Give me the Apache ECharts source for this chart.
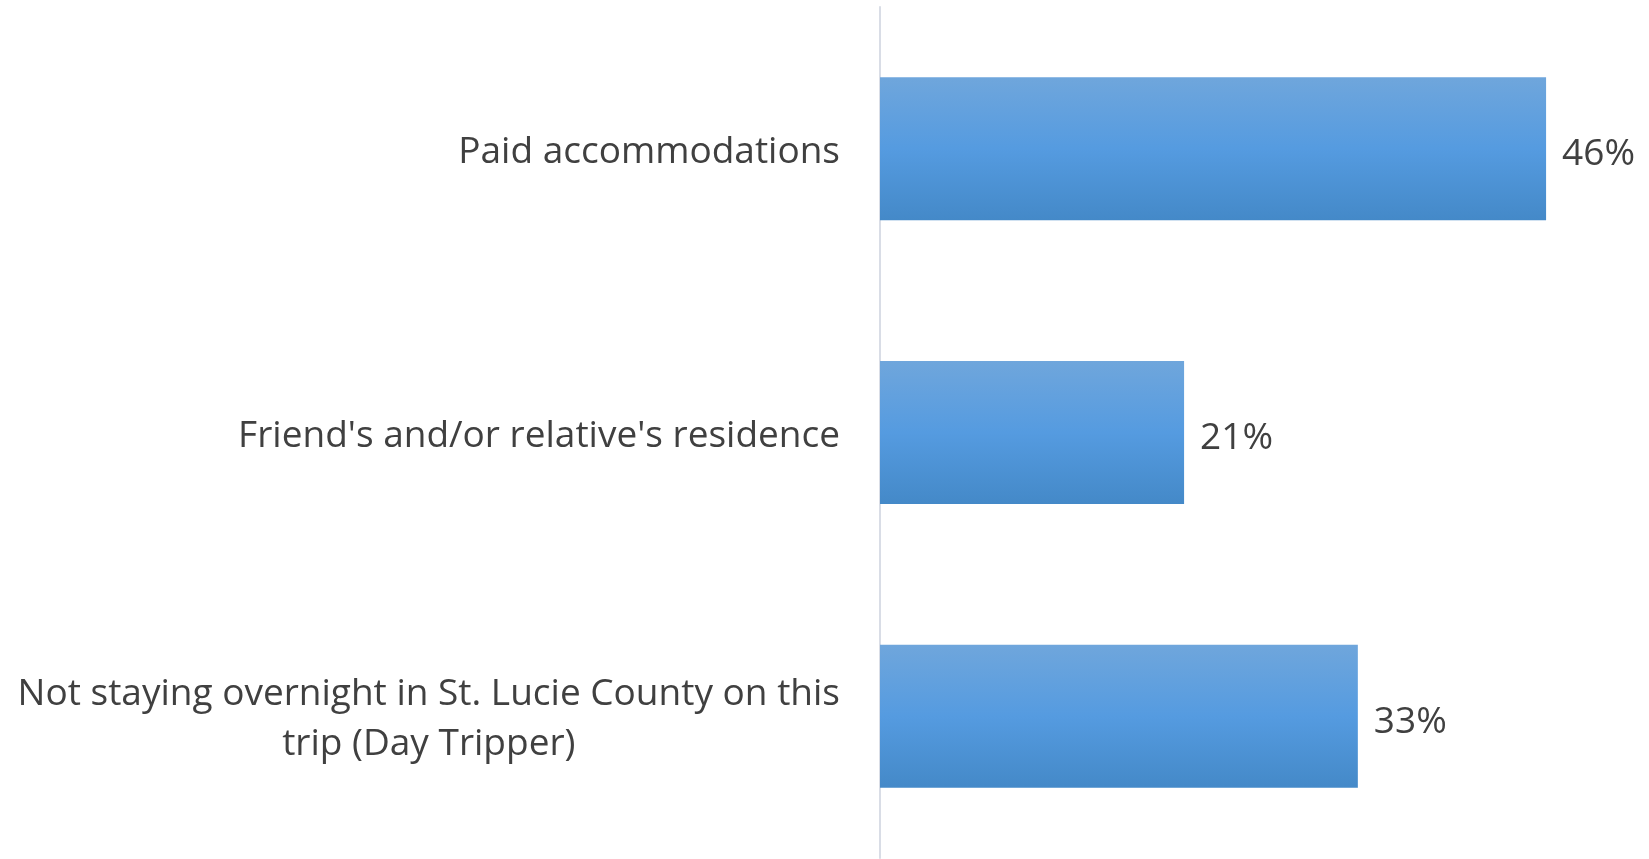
<!DOCTYPE html>
<html>
<head>
<meta charset="utf-8">
<script src="https://cdn.jsdelivr.net/npm/echarts@6/dist/echarts.min.js"></script>
<style>
  html, body { margin: 0; padding: 0; background: #fff; }
  #chart { width: 1649px; height: 859px; }
</style>
</head>
<body>
<div id="chart"></div>
<script>
var categories = [
  "Paid accommodations",
  "Friend's and/or relative's residence",
  "Not staying overnight in St. Lucie County on this\ntrip (Day Tripper)"
];
var shares = [0.46, 0.21, 0.33];

var myChart = echarts.init(document.getElementById("chart"));

var options = {
  animation: false,
  grid: { left: 880, right: 45, top: 7, bottom: 1 },
  xAxis: {
    type: "value",
    min: 0,
    max: 0.5,
    show: false
  },
  yAxis: {
    type: "category",
    inverse: true,
    data: categories,
    axisLine: { show: true, lineStyle: { color: "#d9dde6", width: 2 } },
    axisTick: { show: false },
    axisLabel: {
      margin: 40,
      padding: [7, 0, 0, 0],
      color: "#404040",
      fontFamily: "Open Sans",
      fontSize: 37,
      lineHeight: 50,
      align: "right",
      // centre each line of a wrapped label inside its block
      formatter: function(v) {
        return v.split("\n").map(function(s) { return "{c|" + s + "}"; }).join("\n");
      },
      rich: {
        c: {
          align: "center",
          color: "#404040",
          fontFamily: "Open Sans",
          fontSize: 37,
          lineHeight: 50
        }
      }
    }
  },
  series: [{
    type: "bar",
    data: shares,
    barWidth: 143,
    itemStyle: {
      color: new echarts.graphic.LinearGradient(0, 0, 0, 1, [
        { offset: 0, color: "#6fa6dc" },
        { offset: 0.5, color: "#559be0" },
        { offset: 1, color: "#4489c8" }
      ])
    },
    label: {
      show: true,
      position: "right",
      distance: 16,
      offset: [0, 6],
      color: "#404040",
      fontFamily: "Open Sans",
      fontSize: 37,
      formatter: function(p) { return Math.round(p.value * 100) + "%"; }
    }
  }]
};

myChart.setOption(options);
</script>
</body>
</html>
